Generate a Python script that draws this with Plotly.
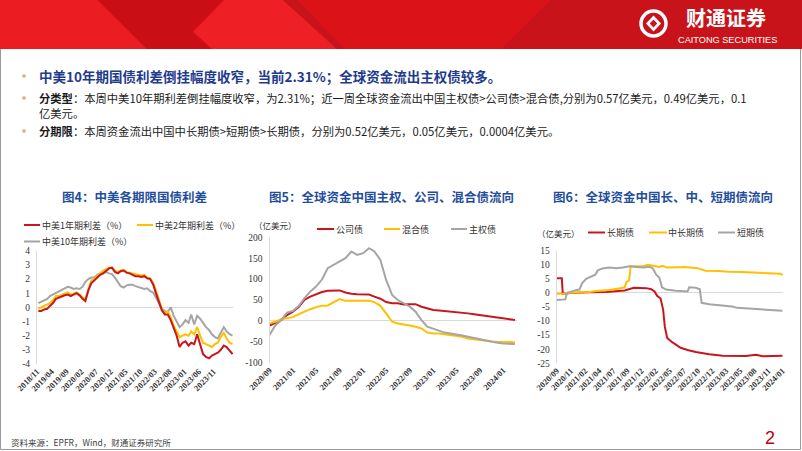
import pandas as pd
import plotly.graph_objects as go

W, H = 802, 451

# ---------------- Chart 1 data (monthly) ----------------
c1_dates = (pd.date_range("2018-11-01", "2024-05-01", freq="MS") + pd.Timedelta(days=14)).strftime("%Y-%m-%d").tolist()
c1_1y = [-0.25, -0.25, -0.15, -0.1, 0.1, 0.3, 0.6, 0.7, 0.8, 0.85,
         0.9, 0.8, 0.9, 1.0, 0.85, 0.6, 0.45, 1.2, 1.7, 1.9,
         2.1, 2.3, 2.4, 2.6, 2.75, 2.8, 2.5, 2.4, 2.55, 2.6,
         2.45, 2.4, 2.3, 2.2, 2.2, 2.15, 2.2, 2.05, 2.0, 1.6,
         1.0, 0.3, -0.2, -0.5, -0.5, -0.9, -1.5, -2.0, -2.8, -2.5,
         -2.4, -2.7, -2.5, -2.6, -1.9, -2.7, -3.3, -3.5, -3.6, -3.4,
         -3.3, -3.2, -3.0, -2.7, -2.8, -3.1, -3.3]
c1_2y = [-0.1, 0.0, 0.1, 0.2, 0.3, 0.5, 0.8, 0.8, 0.9, 1.0,
         1.05, 0.9, 1.0, 1.05, 0.9, 0.7, 0.6, 1.3, 1.9, 2.0,
         2.2, 2.4, 2.6, 2.7, 2.8, 2.8, 2.6, 2.5, 2.6, 2.65,
         2.5, 2.45, 2.4, 2.35, 2.3, 2.25, 2.3, 2.1, 2.05, 1.7,
         1.2, 0.5, -0.1, -0.4, -0.3, -0.7, -1.3, -1.7, -2.1, -2.0,
         -1.9, -2.0, -1.7, -1.9, -1.4, -2.0, -2.5, -2.6, -2.7, -2.8,
         -2.6, -2.5, -2.1, -1.8, -2.2, -2.5, -2.6]
c1_10y = [0.3, 0.4, 0.5, 0.6, 0.8, 0.9, 1.0, 1.1, 1.2, 1.3,
          1.45, 1.4, 1.3, 1.35, 1.3, 1.45, 1.8, 2.0, 2.1, 2.1,
          2.3, 2.4, 2.45, 2.5, 2.4, 2.35, 2.1, 1.8, 1.5, 1.4,
          1.55, 1.6, 1.6, 1.5, 1.45, 1.4, 1.3, 1.35, 1.15, 1.05,
          0.65, 0.25, -0.1, -0.25, -0.35, 0.0, -0.6, -1.0, -1.4, -1.2,
          -0.9, -1.1, -0.5, -1.2, -0.6, -0.8, -1.1, -1.4, -1.6, -1.9,
          -2.1, -2.2, -1.8, -1.4, -1.7, -1.9, -2.0]
c1_names = ["中美1年期利差（%）", "中美2年期利差（%）", "中美10年期利差（%）"]
c1_xticks = ["2018/11", "2019/04", "2019/09", "2020/02", "2020/07", "2020/12", "2021/05",
             "2021/10", "2022/03", "2022/08", "2023/01", "2023/06", "2023/11"]
c1_yticks = [-4, -3, -2, -1, 0, 1, 2, 3, 4]

# ---------------- Chart 2 data (monthly, 亿美元) ----------------
c2_dates = pd.date_range("2020-09-01", "2024-03-01", freq="MS").strftime("%Y-%m-%d").tolist()
c2_corp = [-11, -5, 2, 14, 22, 34, 50, 58, 64, 69, 72, 73, 73, 68, 65, 64, 64, 63, 58, 53,
           45, 42, 42, 39, 40, 40, 34, 30, 26, 25, 24, 23, 21, 20, 18, 16, 14, 12, 10, 9,
           7, 5, 2]
c2_mixed = [-6, -2, 4, 6, 9, 16, 22, 28, 33, 36, 37, 45, 52, 48, 48, 48, 48, 48, 45, 36,
            18, -2, -6, -8, -11, -14, -18, -28, -30, -30, -32, -33, -35, -38, -42, -44, -46, -48, -49, -50,
            -50, -51, -51]
c2_sov = [-34, -11, 2, 20, 24, 36, 54, 70, 82, 99, 126, 134, 142, 150, 166, 158, 162, 174, 166, 146,
          98, 62, 50, 41, 34, 22, 2, -14, -19, -23, -28, -30, -32, -35, -38, -41, -44, -47, -50, -52,
          -54, -55, -55]
c2_names = ["公司债", "混合债", "主权债"]
c2_xticks = ["2020/09", "2021/01", "2021/05", "2021/09", "2022/01", "2022/05", "2022/09",
             "2023/01", "2023/05", "2023/09", "2024/01"]
c2_yticks = [-100, -50, 0, 50, 100, 150, 200]

# ---------------- Chart 3 data (亿美元) ----------------
c3_long_dates = ["2020-09-02", "2020-09-30", "2020-10-05", "2020-11-15", "2021-03-01", "2021-06-01",
                 "2021-09-08", "2021-10-14", "2021-10-28", "2022-01-04", "2022-01-31", "2022-02-18",
                 "2022-03-04", "2022-03-23", "2022-04-06", "2022-04-15", "2022-04-28", "2022-05-25",
                 "2022-07-10", "2022-08-17", "2022-10-01", "2022-12-14", "2023-02-24", "2023-07-01",
                 "2023-08-25", "2023-10-01", "2024-01-17"]
c3_long = [5.2, 5.2, -0.3, 0.0, 0.2, 0.3, 0.9, 1.5, 1.8, 1.7, 1.3, 0.5, -1.0, -2.0, -6.0, -12.0,
           -16.0, -17.5, -19.5, -20.3, -21.0, -21.8, -22.3, -22.4, -22.0, -22.5, -22.3]
c3_mid_dates = ["2020-09-02", "2020-10-14", "2020-10-23", "2021-02-28", "2021-04-05", "2021-06-16",
                "2021-08-08", "2021-09-08", "2021-09-17", "2021-10-02", "2021-10-11", "2021-11-11",
                "2021-12-18", "2022-01-14", "2022-02-18", "2022-03-16", "2022-04-03", "2022-04-28",
                "2022-06-30", "2022-08-05", "2022-10-09", "2022-11-05", "2022-11-23", "2023-02-03",
                "2023-03-29", "2023-06-10", "2023-10-01", "2023-12-13", "2024-01-08", "2024-01-17"]
c3_mid = [-0.3, -0.3, 0.0, 0.3, 0.7, 1.0, 1.6, 2.0, 3.8, 4.5, 9.5, 9.4, 9.5, 10.0, 9.6, 9.2, 9.6,
          9.0, 9.1, 9.2, 8.8, 8.3, 7.9, 7.8, 7.5, 7.4, 7.2, 7.0, 6.8, 6.3]
c3_short_dates = ["2020-09-02", "2020-10-19", "2020-10-28", "2020-11-19", "2020-12-16", "2021-01-04",
                  "2021-01-19", "2021-02-10", "2021-03-14", "2021-04-01", "2021-04-14", "2021-05-11",
                  "2021-06-16", "2021-07-23", "2021-08-29", "2021-10-04", "2021-11-11", "2021-12-18",
                  "2022-01-23", "2022-02-09", "2022-02-27", "2022-03-16", "2022-03-31", "2022-04-21",
                  "2022-06-15", "2022-08-17", "2022-08-26", "2022-10-01", "2022-10-23", "2022-11-02",
                  "2022-12-14", "2023-02-24", "2023-04-17", "2023-05-15", "2023-07-19", "2023-09-13",
                  "2023-11-06", "2024-01-17"]
c3_short = [-2.5, -2.3, 0.0, 0.5, 1.0, 1.2, 3.5, 5.0, 5.8, 6.5, 8.0, 8.7, 9.0, 8.8, 9.0, 9.5, 9.2,
            9.0, 9.3, 8.7, 6.5, 5.5, 2.0, 1.2, 0.8, 0.5, 2.0, 1.8, 1.3, -3.5, -4.0, -4.4, -4.8, -5.3,
            -5.5, -5.7, -6.1, -6.3]
c3_names = ["长期债", "中长期债", "短期债"]
c3_xticks = ["2020/09", "2020/11", "2021/02", "2021/04", "2021/07", "2021/09", "2021/12", "2022/02",
             "2022/05", "2022/07", "2022/10", "2022/12", "2023/03", "2023/05", "2023/08", "2023/11",
             "2024/01"]
c3_yticks = [-25, -20, -15, -10, -5, 0, 5, 10, 15]

# ---------------- Texts ----------------
bullet1 = "中美10年期国债利差倒挂幅度收窄，当前2.31%；全球资金流出主权债较多。"
bullet2a = "<b>分类型</b>：本周中美10年期利差倒挂幅度收窄，为2.31%；近一周全球资金流出中国主权债>公司债>混合债,分别为0.57亿美元，0.49亿美元，0.1"
bullet2b = "亿美元。"
bullet3 = "<b>分期限</b>：本周资金流出中国中长期债>短期债>长期债，分别为0.52亿美元，0.05亿美元，0.0004亿美元。"
titles = ["图4：中美各期限国债利差", "图5：全球资金中国主权、公司、混合债流向", "图6：全球资金中国长、中、短期债流向"]
source = "资料来源：EPFR，Wind，财通证券研究所"

RED, YEL, GRY = "#C8161E", "#FFC000", "#A5A5A5"
CJK = "Noto Sans CJK SC"
SERIF = "Liberation Serif"

def X(p): return p / W
def Y(p): return 1 - p / H

fig = go.Figure()

for xs, ys, c, n in [(c1_dates, c1_1y, RED, c1_names[0]), (c1_dates, c1_2y, YEL, c1_names[1]),
                     (c1_dates, c1_10y, GRY, c1_names[2])][::-1]:
    fig.add_trace(go.Scatter(x=xs, y=ys, mode="lines", name=n, line=dict(color=c, width=2),
                             xaxis="x", yaxis="y", showlegend=False))
for xs, ys, c, n in [(c2_dates, c2_corp, RED, c2_names[0]), (c2_dates, c2_mixed, YEL, c2_names[1]),
                     (c2_dates, c2_sov, GRY, c2_names[2])]:
    fig.add_trace(go.Scatter(x=xs, y=ys, mode="lines", name=n, line=dict(color=c, width=2),
                             xaxis="x2", yaxis="y2", showlegend=False))
for xs, ys, c, n in [(c3_long_dates, c3_long, RED, c3_names[0]), (c3_mid_dates, c3_mid, YEL, c3_names[1]),
                     (c3_short_dates, c3_short, GRY, c3_names[2])]:
    fig.add_trace(go.Scatter(x=xs, y=ys, mode="lines", name=n, line=dict(color=c, width=2),
                             xaxis="x3", yaxis="y3", showlegend=False))

def xax(dom, rng, tvals, ttext, anchor):
    return dict(domain=[X(dom[0]), X(dom[1])], range=rng, type="date", anchor=anchor,
                tickvals=tvals, ticktext=ttext, tickangle=-45, showgrid=False, zeroline=False,
                showline=False, ticks="", automargin=False,
                tickfont=dict(family=SERIF, size=8.5, color="#333", weight="bold"))

def yax(dom, rng, tv, anchor):
    return dict(domain=[Y(dom[1]), Y(dom[0])], range=rng, anchor=anchor, tickvals=tv,
                ticktext=[str(v) for v in tv], showgrid=False, zeroline=True,
                zerolinecolor="#D9D9D9", zerolinewidth=1, showline=True, linecolor="#D9D9D9",
                linewidth=1, ticks="", ticklabelstandoff=4, automargin=False,
                tickfont=dict(family=SERIF, size=9.5, color="#333"))

c1_tv = [pd.Timestamp(t.replace("/", "-") + "-01") for t in c1_xticks]
c2_tv = [pd.Timestamp(t.replace("/", "-") + "-01") for t in c2_xticks]
c3_tv = pd.date_range("2020-09-02", periods=len(c3_xticks), freq="77D").tolist()

annotations = []
shapes = []

def ann(x, y, text, size, color="#222", xanchor="left", family=CJK, yanchor="middle"):
    annotations.append(dict(x=X(x), y=Y(y), xref="paper", yref="paper", text=text, showarrow=False,
                            xanchor=xanchor, yanchor=yanchor, borderpad=0,
                            font=dict(size=size, color=color, family=family)))

def poly(pts, color):
    path = "M " + " L ".join(f"{X(a):.5f},{Y(b):.5f}" for a, b in pts) + " Z"
    shapes.append(dict(type="path", path=path, xref="paper", yref="paper",
                       fillcolor=color, line=dict(width=0), layer="below"))

def seg(x0, y0, x1, y1, color, w=2):
    shapes.append(dict(type="line", x0=X(x0), y0=Y(y0), x1=X(x1), y1=Y(y1), xref="paper",
                       yref="paper", line=dict(color=color, width=w)))

# header
poly([(0, 0), (802, 0), (802, 49), (0, 49)], "#DC1219")
poly([(0, 0), (97.6, 0), (147, 49), (0, 49)], "#EC1C23")
poly([(97.6, 0), (224, 0), (193, 31.7), (212, 49), (147, 49)], "#C90F15")
poly([(224, 0), (283, 0), (337, 49), (212, 49), (193, 31.7)], "#EE1F25")
poly([(283, 0), (297, 0), (345, 49), (337, 49)], "#C7141A")
poly([(551, 0), (802, 0), (802, 49), (501, 49)], "#C8131B")
# logo icon
shapes.append(dict(type="circle", xref="paper", yref="paper", x0=X(641), x1=X(666), y0=Y(36), y1=Y(11),
                   line=dict(color="white", width=3.5)))
poly([(653.5, 15.5), (661, 23.5), (653.5, 31.5), (646, 23.5)], "white")
poly([(653.5, 19.5), (657.2, 23.5), (653.5, 27.5), (649.8, 23.5)], "#C8131B")
ann(726, 17.5, "<b>财通证券</b>", 20, "white", "center")
ann(727, 39.5, "CAITONG SECURITIES", 9.2, "white", "center", "Liberation Sans")

# slide border
seg(0.5, 49, 0.5, 449.5, "#9A9A9A", 1)
seg(800.5, 49, 800.5, 449.5, "#9A9A9A", 1)
seg(0.5, 449.5, 800.5, 449.5, "#9A9A9A", 1)

# bullets
for yy in (76, 98, 131):
    poly([(22.5, yy - 1.5), (25.5, yy - 1.5), (25.5, yy + 1.5), (22.5, yy + 1.5)], "#E2A36F")
ann(38, 76, "<b>" + bullet1 + "</b>", 13.5, "#1F3B8C")
ann(38, 98, bullet2a, 11.3, "#1a1a1a")
ann(38, 113, bullet2b, 11.3, "#1a1a1a")
ann(38, 131, bullet3, 11.3, "#1a1a1a")

# chart titles
ann(134, 197, "<b>" + titles[0] + "</b>", 12.5, "#1F4E9C", "center")
ann(391, 197, "<b>" + titles[1] + "</b>", 12.5, "#1F4E9C", "center")
ann(663, 197, "<b>" + titles[2] + "</b>", 12.5, "#1F4E9C", "center")

# legends chart 1
LF = 9
seg(24, 225, 40, 225, RED); ann(41, 225, c1_names[0], LF, "#333")
seg(137, 225, 153, 225, YEL); ann(154, 225, c1_names[1], LF, "#333")
seg(24, 241.5, 40, 241.5, GRY); ann(41, 241.5, c1_names[2], LF, "#333")
# legends chart 2
ann(253, 225, "（亿美元）", 8.5, "#333")
seg(317, 229, 334, 229, RED); ann(335, 229, c2_names[0], LF, "#333")
seg(384, 229, 400, 229, YEL); ann(401, 229, c2_names[1], LF, "#333")
seg(451, 229, 467, 229, GRY); ann(468, 229, c2_names[2], LF, "#333")
# legends chart 3
ann(536, 232.5, "（亿美元）", 8.5, "#333")
seg(588, 232.5, 605, 232.5, RED); ann(606, 232.5, c3_names[0], LF, "#333")
seg(649, 232.5, 667, 232.5, YEL); ann(667, 232.5, c3_names[1], LF, "#333")
seg(718, 232.5, 735, 232.5, GRY); ann(736, 232.5, c3_names[2], LF, "#333")

# footer
ann(10, 442, source, 8.5, "#404040")
ann(770, 438, "2", 18, "#C00000", "center", "Liberation Sans")

fig.update_layout(
    width=W, height=H, autosize=False, margin=dict(l=0, r=0, t=0, b=0, pad=0),
    paper_bgcolor="white", plot_bgcolor="rgba(0,0,0,0)", showlegend=False,
    xaxis=xax((37, 233), ["2018-11-01", "2024-05-20"], c1_tv, c1_xticks, "y"),
    yaxis=yax((250.7, 364), [-4, 4], c1_yticks, "x"),
    xaxis2=xax((269.5, 517), ["2020-09-01", "2024-03-12"], c2_tv, c2_xticks, "y2"),
    yaxis2=yax((237.3, 362.7), [-100, 200], c2_yticks, "x2"),
    xaxis3=xax((556.7, 783), ["2020-09-02", "2024-01-20"], c3_tv, c3_xticks, "y3"),
    yaxis3=yax((250.7, 363.3), [-25, 15], c3_yticks, "x3"),
    annotations=annotations, shapes=shapes,
)

fig.write_html("out.html")
